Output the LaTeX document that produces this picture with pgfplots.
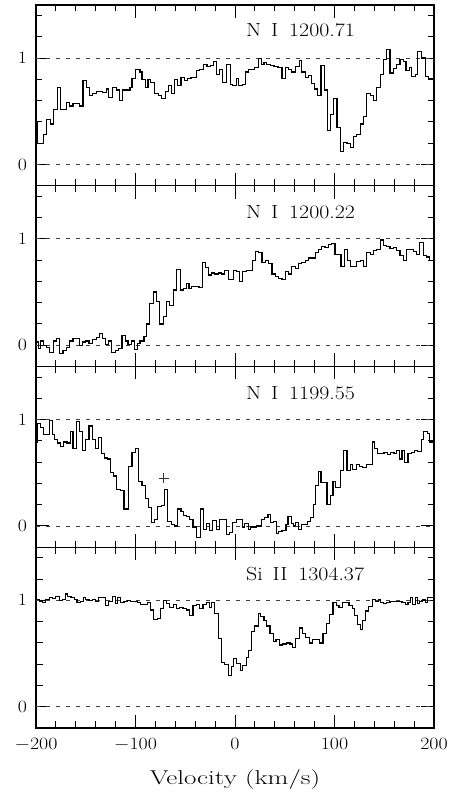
\documentclass[border=0pt]{standalone}
\usepackage{graphicx}
\usepackage{pgfplots}
\pgfplotsset{compat=1.18}

\newcommand{\tickfont}{\fontsize{19}{19}\selectfont}
\newcommand{\labfont}{\fontsize{19}{19}\selectfont}
\newcommand{\panellabel}[1]{\scalebox{1.15}[1]{#1}}

\pgfplotsset{
  panel/.style={
    width=398pt, height=180.75pt, scale only axis,
    xmin=-200, xmax=200, ymin=-0.2, ymax=1.5,
    xtick={-200,-100,0,100,200},
    minor xtick={-180,-160,-140,-120,-80,-60,-40,-20,20,40,60,80,120,140,160,180},
    ytick={0,1},
    minor ytick={-0.2,0.2,0.4,0.6,0.8,1.2,1.4},
    tick align=inside, tick pos=both,
    major tick length=13pt, minor tick length=6.5pt,
    axis line style={line width=1.2pt},
    every tick/.style={line width=1pt, black},
    ticklabel style={font=\tickfont},
    yticklabel={\scalebox{1.15}[1]{$\pgfmathprintnumber{\tick}$}},
    yticklabel style={xshift=-5.5pt},
    xticklabel={\scalebox{1.15}[1]{$\pgfmathprintnumber{\tick}$}},
    xticklabel style={yshift=-6.5pt},
    anchor=south west,
  },
  spec/.style={const plot mark left, black, line width=1.15pt, no marks},
  refl/.style={black!75, line width=0.9pt, dash pattern=on 4pt off 6pt, no marks},
}

\begin{document}
\begin{tikzpicture}
\useasboundingbox (0,0) rectangle (454pt,799pt);

% ---------------- Panel 1: N I 1200.71
\begin{axis}[panel, at={(36pt,613.25pt)}, xticklabels={}]
\addplot[refl] coordinates {(-200,1) (200,1)};
\addplot[refl] coordinates {(-200,0) (200,0)};
\addplot[spec] coordinates {
(-200,0.40) (-198.2,0.20) (-192.8,0.28) (-189.5,0.42) (-185.5,0.38) (-182.2,0.52)
(-178.8,0.72) (-175.5,0.52) (-169.5,0.58) (-166.2,0.55) (-162.8,0.57) (-156.2,0.55)
(-152.8,0.79) (-149.5,0.72) (-146.2,0.65) (-142.8,0.67) (-139.5,0.69) (-136.2,0.69)
(-132.8,0.68) (-129.5,0.71) (-126.8,0.63) (-123.5,0.72) (-119.5,0.70) (-116.2,0.60)
(-112.8,0.70) (-105.5,0.72) (-103.5,0.81) (-100.2,0.89) (-95.5,0.87) (-93.5,0.80)
(-90.2,0.72) (-87.5,0.80) (-84.8,0.77) (-80.8,0.67) (-76.8,0.65) (-73.5,0.62)
(-70.2,0.69) (-66.8,0.74) (-64.2,0.67) (-60.8,0.80) (-57.5,0.74) (-54.2,0.82)
(-50.8,0.79) (-47.5,0.81) (-44.2,0.82) (-38.8,0.88) (-35.5,0.89) (-31.5,0.94)
(-28.2,0.92) (-24.8,0.93) (-21.5,0.97) (-18.2,0.85) (-15.5,0.89) (-12.2,0.77)
(-8.8,0.94) (-4.8,0.75) (-2.2,0.74) (1.2,0.81) (3.8,0.74) (7.2,0.75)
(10.5,0.87) (13.8,0.89) (16.5,0.89) (19.8,0.91) (23.2,1.00) (26.5,0.94)
(29.2,0.96) (31.8,0.94) (35.8,0.93) (39.2,0.92) (43.2,0.91) (47.2,0.81)
(50.5,0.91) (53.8,0.89) (57.2,0.87) (60.5,0.92) (64.5,0.98) (67.2,0.87)
(70.5,0.82) (73.8,0.84) (76.5,0.76) (79.8,0.71) (83.2,0.65) (86.5,0.93)
(89.8,0.70) (93.2,0.32) (95.8,0.47) (99.2,0.62) (102.5,0.35) (105.8,0.12)
(109.2,0.21) (112.5,0.20) (115.8,0.16) (119.2,0.26) (122.5,0.28) (125.8,0.38)
(129.2,0.45) (132.5,0.67) (135.8,0.65) (139.2,0.60) (142.5,0.72) (145.8,0.85)
(149.2,0.99) (152.5,1.08) (155.8,0.86) (159.2,0.90) (162.5,0.94) (165.8,0.99)
(169.2,0.97) (171.8,0.88) (175.2,0.91) (177.8,0.83) (181.2,0.85) (183.8,1.06)
(187.2,1.01) (191.2,0.83) (194.5,0.81) (200,0.81)
};
\node[anchor=west, inner sep=0pt, font=\labfont] at (axis cs:11,1.267) {\panellabel{N\hspace{0.45em}I\hspace{0.5em}1200.71}};
\end{axis}

% ---------------- Panel 2: N I 1200.22
\begin{axis}[panel, at={(36pt,432.5pt)}, xticklabels={}]
\addplot[refl] coordinates {(-200,1) (200,1)};
\addplot[refl] coordinates {(-200,0) (200,0)};
\addplot[spec] coordinates {
(-200,0.03) (-197.5,-0.03) (-195.5,0.04) (-192.2,0.00) (-189.5,-0.02) (-186.2,-0.07)
(-182.8,0.04) (-179.5,0.06) (-176.2,-0.08) (-172.8,-0.05) (-169.5,-0.02) (-166.2,0.04)
(-162.8,0.06) (-156.2,0.00) (-153.5,0.03) (-150.2,0.04) (-146.8,0.02) (-142.8,0.05)
(-139.5,0.07) (-136.2,0.11) (-132.8,0.06) (-130.2,0.01) (-126.8,0.04) (-124.2,-0.07)
(-120.2,-0.05) (-116.8,-0.03) (-113.5,0.09) (-110.2,0.04) (-107.5,0.01) (-104.2,0.04)
(-100.8,-0.04) (-98.2,0.02) (-95.5,0.04) (-91.5,0.08) (-88.8,0.20) (-86.2,0.39)
(-82.2,0.50) (-78.8,0.41) (-75.5,0.20) (-72.2,0.27) (-68.8,0.41) (-65.5,0.37)
(-62.2,0.52) (-58.8,0.71) (-54.8,0.52) (-51.5,0.53) (-48.8,0.58) (-46.2,0.53)
(-43.5,0.55) (-40.2,0.55) (-36.2,0.54) (-32.8,0.78) (-29.5,0.73) (-26.8,0.66)
(-23.5,0.68) (-20.2,0.67) (-16.8,0.68) (-13.5,0.67) (-10.2,0.70) (-6.8,0.62)
(-1.8,0.70) (1.8,0.69) (4.5,0.60) (7.8,0.69) (11.2,0.70) (17.2,0.80)
(20.5,0.88) (23.8,0.87) (27.2,0.78) (30.5,0.80) (33.8,0.77) (37.2,0.67)
(40.5,0.65) (43.8,0.63) (47.2,0.62) (50.5,0.69) (53.8,0.67) (57.2,0.74)
(60.5,0.72) (63.8,0.77) (67.2,0.78) (70.5,0.80) (73.8,0.82) (77.2,0.82)
(80.5,0.87) (83.8,0.90) (87.2,0.93) (90.5,0.92) (93.8,0.95) (97.2,0.96)
(100.5,0.85) (103.8,0.85) (106.5,0.74) (109.8,0.90) (113.2,0.80) (115.8,0.74)
(119.2,0.74) (122.5,0.79) (125.8,0.80) (129.2,0.74) (132.5,0.87) (135.8,0.85)
(139.2,0.89) (142.5,0.90) (145.8,0.99) (149.2,0.94) (152.5,0.93) (155.8,0.91)
(159.2,0.92) (162.5,0.89) (165.8,0.84) (169.2,0.80) (172.5,0.90) (175.8,0.90)
(179.2,0.88) (182.5,0.85) (185.8,0.97) (189.2,0.84) (192.5,0.83) (195.8,0.80)
(200,0.80)
};
\node[anchor=west, inner sep=0pt, font=\labfont] at (axis cs:11,1.25) {\panellabel{N\hspace{0.45em}I\hspace{0.5em}1200.22}};
\end{axis}

% ---------------- Panel 3: N I 1199.55
\begin{axis}[panel, at={(36pt,251.75pt)}, xticklabels={}]
\addplot[refl] coordinates {(-200,1) (200,1)};
\addplot[refl] coordinates {(-200,0) (200,0)};
\addplot[spec] coordinates {
(-200,0.79) (-198.8,0.96) (-195.5,0.93) (-192.2,0.86) (-186.2,0.99) (-183.5,0.86)
(-181.5,0.81) (-178.8,0.78) (-175.5,0.75) (-172.2,0.79) (-168.8,0.78) (-165.5,0.89)
(-162.8,0.73) (-159.5,0.98) (-156.2,0.89) (-153.5,0.71) (-150.2,0.81) (-146.8,0.94)
(-143.5,0.81) (-140.2,0.73) (-136.8,0.83) (-134.2,0.68) (-131.5,0.64) (-128.2,0.63)
(-124.8,0.50) (-122.2,0.47) (-118.8,0.34) (-115.5,0.33) (-111.5,0.16) (-106.8,0.56)
(-103.5,0.69) (-100.2,0.73) (-96.8,0.42) (-93.5,0.38) (-90.2,0.26) (-86.8,0.17)
(-84.2,0.03) (-80.8,0.06) (-77.5,0.18) (-74.2,0.19) (-70.8,0.34) (-67.5,0.04)
(-64.2,0.01) (-60.8,0.00) (-57.5,0.16) (-54.2,0.14) (-51.5,0.10) (-48.8,0.09)
(-45.5,0.06) (-42.2,-0.01) (-38.8,-0.11) (-34.8,0.16) (-31.5,-0.03) (-28.8,0.02)
(-25.5,-0.04) (-22.2,0.05) (-18.8,-0.03) (-15.5,0.06) (-12.2,0.06) (-8.8,-0.08)
(-5.5,-0.06) (-2.2,0.03) (1.2,0.06) (4.5,0.06) (7.8,-0.01) (9.8,0.02)
(13.2,-0.03) (15.2,-0.01) (18.5,-0.01) (21.8,0.00) (26.5,0.06) (29.8,0.08)
(33.2,0.11) (35.8,0.03) (38.5,0.04) (41.8,-0.07) (43.8,-0.05) (47.2,-0.04)
(51.2,0.01) (53.2,0.09) (56.5,0.02) (58.5,0.00) (61.2,0.03) (63.8,-0.03)
(67.2,0.01) (69.8,0.01) (73.2,0.04) (75.8,0.08) (78.5,0.20) (80.5,0.38)
(83.8,0.51) (86.5,0.41) (89.2,0.41) (92.5,0.20) (95.8,0.29) (98.5,0.42)
(101.2,0.36) (105.8,0.52) (109.2,0.71) (112.5,0.52) (115.8,0.58) (118.5,0.53)
(121.8,0.58) (125.2,0.56) (128.5,0.55) (131.8,0.58) (135.2,0.58) (137.8,0.79)
(140.5,0.73) (143.2,0.68) (146.5,0.68) (149.8,0.69) (153.2,0.67) (156.5,0.69)
(159.8,0.68) (162.5,0.71) (165.2,0.63) (167.8,0.71) (170.5,0.60) (173.8,0.68)
(177.2,0.69) (180.5,0.71) (183.8,0.70) (187.2,0.81) (189.8,0.89) (193.2,0.87)
(195.8,0.79) (200,0.79)
};
\addplot[only marks, mark=+, mark size=5pt, black!80, mark options={line width=0.9pt}] coordinates {(-71.5,0.45)};
\node[anchor=west, inner sep=0pt, font=\labfont] at (axis cs:11,1.25) {\panellabel{N\hspace{0.45em}I\hspace{0.5em}1199.55}};
\end{axis}

% ---------------- Panel 4: Si II 1304.37
\begin{axis}[panel, at={(36pt,71pt)},
  xlabel={\fontsize{20}{20}\selectfont\scalebox{1.35}[1]{Velocity (km/s)}},
  xlabel style={at={(axis description cs:0.5,0)}, anchor=north, yshift=-38pt}]
\addplot[refl] coordinates {(-200,1) (200,1)};
\addplot[refl] coordinates {(-200,0) (200,0)};
\addplot[spec] coordinates {
(-200,1.01) (-196.8,0.99) (-193.5,0.98) (-190.2,1.01) (-186.8,1.03) (-183.5,1.02)
(-180.2,1.04) (-176.8,1.00) (-173.5,1.01) (-170.2,1.06) (-168.2,1.04) (-164.8,1.03)
(-161.5,1.01) (-158.8,0.98) (-155.5,0.99) (-152.2,1.03) (-150.2,1.01) (-146.8,1.00)
(-143.5,1.01) (-140.2,0.99) (-136.8,1.03) (-133.5,1.03) (-130.2,0.95) (-126.8,0.99)
(-123.5,1.04) (-120.2,0.97) (-118.2,1.03) (-114.8,0.98) (-111.5,0.99) (-108.2,1.00)
(-104.8,0.99) (-101.5,0.99) (-98.2,0.98) (-94.8,0.96) (-91.5,0.96) (-88.2,0.98)
(-84.8,0.91) (-81.5,0.82) (-78.2,0.83) (-74.8,0.92) (-71.5,1.00) (-68.8,0.97)
(-65.5,0.93) (-62.2,0.96) (-58.8,0.92) (-55.5,0.93) (-52.2,0.92) (-48.8,0.91)
(-45.5,0.86) (-42.2,0.95) (-38.8,0.96) (-35.5,0.92) (-32.2,0.96) (-28.8,0.98)
(-25.5,0.93) (-23.5,0.98) (-20.2,0.88) (-16.8,0.64) (-13.5,0.42) (-10.2,0.40)
(-6.8,0.29) (-3.5,0.38) (-1.5,0.45) (1.8,0.41) (5.2,0.34) (7.8,0.39)
(11.2,0.46) (13.8,0.53) (16.5,0.71) (19.8,0.76) (23.2,0.88) (25.8,0.85)
(29.2,0.81) (31.8,0.76) (35.2,0.69) (38.5,0.61) (41.2,0.63) (44.5,0.58)
(47.8,0.59) (51.8,0.60) (55.2,0.59) (57.8,0.56) (61.2,0.64) (64.5,0.74)
(67.8,0.69) (71.2,0.65) (74.5,0.60) (77.8,0.63) (81.2,0.63) (84.5,0.60)
(88.5,0.69) (91.8,0.78) (95.2,0.87) (98.5,0.98) (101.8,0.95) (104.5,0.93)
(107.8,0.98) (111.2,0.98) (114.5,0.95) (117.8,0.92) (120.5,0.86) (123.2,0.77)
(125.8,0.73) (128.5,0.81) (131.2,0.90) (134.5,0.94) (137.8,1.01) (141.2,0.99)
(143.8,1.01) (146.5,0.98) (149.2,0.97) (152.5,0.98) (155.8,0.99) (159.2,0.99)
(162.5,0.99) (165.2,0.99) (167.8,0.98) (171.2,0.96) (173.8,0.98) (176.5,1.03)
(178.5,0.96) (181.2,1.03) (183.2,0.97) (185.8,0.99) (188.5,1.01) (191.2,0.98)
(193.8,1.03) (200,1.03)
};
\node[anchor=west, inner sep=0pt, font=\labfont] at (axis cs:11,1.25) {\panellabel{Si\hspace{0.45em}II\hspace{0.5em}1304.37}};
\end{axis}
\end{tikzpicture}
\end{document}
